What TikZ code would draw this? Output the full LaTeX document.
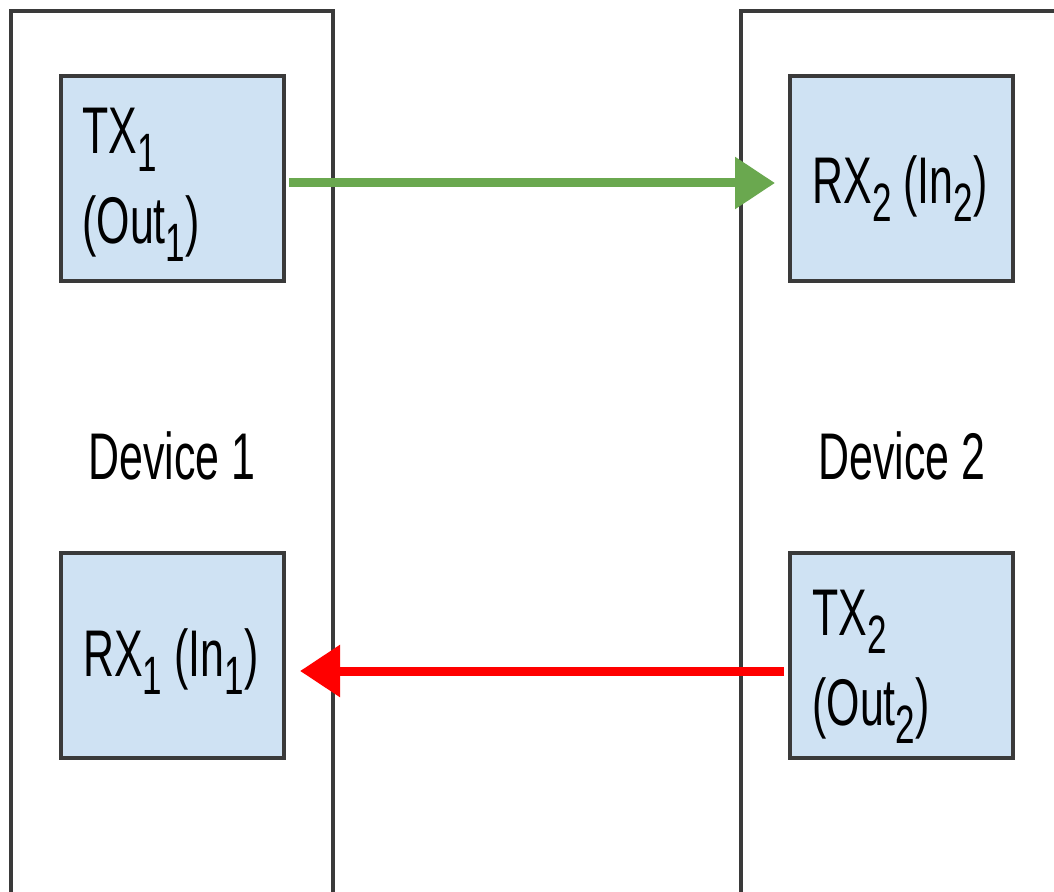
\documentclass[tikz,border=0pt]{standalone}
\usepackage{fontspec}
\newfontfamily\diagfont[FakeStretch=0.65]{Liberation Sans}
\usetikzlibrary{arrows.meta,positioning}
\definecolor{boxfill}{HTML}{CFE2F3}
\definecolor{boxline}{HTML}{3A3A3A}
\definecolor{devline}{HTML}{3A3A3A}
\definecolor{txgreen}{HTML}{6AA84F}
\definecolor{txred}{HTML}{FF0000}
\newcommand{\idx}[1]{\raisebox{-0.27em}{\fontsize{27}{27}\selectfont #1}}

\begin{document}
\begin{tikzpicture}[x=0.5pt, y=-0.5pt
    , device/.style = {rectangle,draw=devline,line width=1.6pt,minimum width=161pt,minimum height=500pt,outer sep=0pt}
    , port/.style = {rectangle,draw=boxline,fill=boxfill,line width=1.6pt,minimum width=111.5pt,minimum height=102.5pt,outer sep=0pt}
    , portlabel/.style = {anchor=north west,inner sep=0pt,align=left,font=\diagfont\fontsize{33}{45}\selectfont}
    , devlabel/.style = {anchor=base,inner sep=0pt,font=\diagfont\fontsize{33}{45}\selectfont}
    , link/.style = {line width=4.5pt,-{Triangle[length=20pt,width=25pt]}}
]
\useasboundingbox (0,0) rectangle (1054,892);
\clip (0,0) rectangle (1054,892);
% the two devices, cut off at the bottom
\node[device, anchor=north west] (dev1) at (11,11) {};
\node[device, anchor=north west] (dev2) at (741,11) {};
\node[devlabel] (dev1lbl) at (172,480) {Device 1};
\node[devlabel] (dev2lbl) at (902,480) {Device 2};
% ports
\foreach \name/\x/\y in {tx1/172.5/178.5, rx2/901.5/178.5, rx1/172.5/655.5, tx2/901.5/655.5}
    \node[port] (\name) at (\x, \y) {};
\node[portlabel] (tx1lbl) at ([xshift=10.5pt, yshift=-16pt]tx1.north west) {TX\idx{1}\\(Out\idx{1})};
\node[portlabel] (rx2lbl) at ([xshift=11pt, yshift=-39.5pt]rx2.north west) {RX\idx{2} (In\idx{2})};
\node[portlabel] (rx1lbl) at ([xshift=11pt, yshift=-37.5pt]rx1.north west) {RX\idx{1} (In\idx{1})};
\node[portlabel] (tx2lbl) at ([xshift=11pt, yshift=-18.5pt]tx2.north west) {TX\idx{2}\\(Out\idx{2})};
% links
\draw[link, txgreen] ([xshift=2.5pt, yshift=-2.25pt]tx1.east) -- ([xshift=-7.5pt, yshift=-2.25pt]rx2.west);
\draw[link, txred] ([xshift=-3pt, yshift=-7.75pt]tx2.west) -- ([xshift=8pt, yshift=-7.75pt]rx1.east);
\end{tikzpicture}
\end{document}
